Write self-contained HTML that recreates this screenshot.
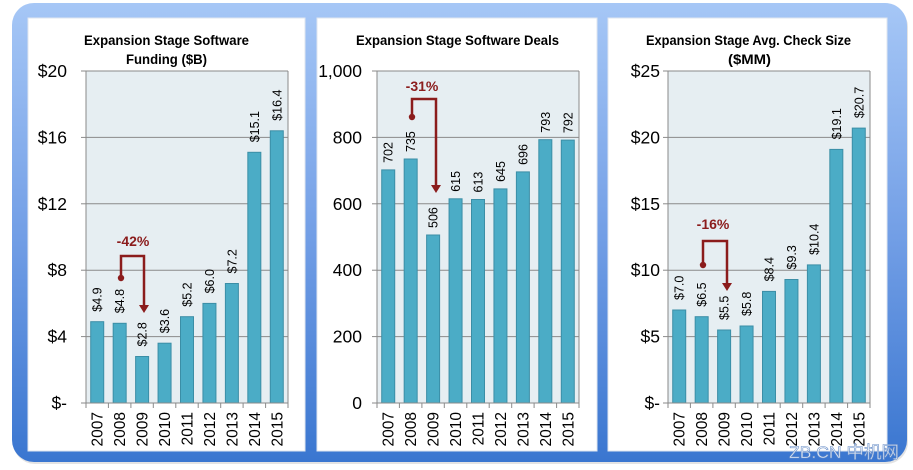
<!DOCTYPE html>
<html><head><meta charset="utf-8"><style>
html,body{margin:0;padding:0;background:#fff;}
svg{display:block;}
text{font-family:"Liberation Sans","Noto Sans CJK SC",sans-serif;}
</style></head><body>
<svg width="913" height="470" viewBox="0 0 913 470" xmlns="http://www.w3.org/2000/svg">
<defs>
<linearGradient id="bg" x1="0" y1="0" x2="0" y2="1">
<stop offset="0" stop-color="#a6c7f6"/>
<stop offset="0.5" stop-color="#739fe6"/>
<stop offset="1" stop-color="#3a76d0"/>
</linearGradient>
</defs>
<rect x="0" y="0" width="913" height="470" fill="#fff"/>
<rect x="13" y="5" width="895" height="459" rx="22" fill="#c8c8c8" opacity="0.5"/>
<rect x="12" y="3" width="895" height="459" rx="22" fill="url(#bg)"/>
<rect x="28" y="18" width="277" height="433" fill="#fff" stroke="#dfe6ef" stroke-width="1"/>
<rect x="317" y="18" width="280" height="433" fill="#fff" stroke="#dfe6ef" stroke-width="1"/>
<rect x="608" y="18" width="279" height="433" fill="#fff" stroke="#dfe6ef" stroke-width="1"/>

<!-- Panel 1 -->
<g>
<text x="166.5" y="45" font-size="14" font-weight="bold" text-anchor="middle" textLength="165" lengthAdjust="spacingAndGlyphs" fill="#000">Expansion Stage Software</text>
<text x="166.5" y="64" font-size="14" font-weight="bold" text-anchor="middle" textLength="81" lengthAdjust="spacingAndGlyphs" fill="#000">Funding ($B)</text>
<rect x="86" y="71" width="202" height="332" fill="#e6eef2"/>
<g stroke="#8a8a8a" stroke-width="1">
<line x1="86" y1="71" x2="288" y2="71"/><line x1="86" y1="137.4" x2="288" y2="137.4"/><line x1="86" y1="203.8" x2="288" y2="203.8"/><line x1="86" y1="270.2" x2="288" y2="270.2"/><line x1="86" y1="336.6" x2="288" y2="336.6"/>
<line x1="288" y1="71" x2="288" y2="403"/>
</g>
<g fill="#4bacc6" stroke="#3b8ea6" stroke-width="1">
<rect x="90.72" y="321.7" width="13" height="81.3"/>
<rect x="113.17" y="323.3" width="13" height="79.7"/>
<rect x="135.61" y="356.5" width="13" height="46.5"/>
<rect x="158.06" y="343.2" width="13" height="59.8"/>
<rect x="180.5" y="316.7" width="13" height="86.3"/>
<rect x="202.94" y="303.4" width="13" height="99.6"/>
<rect x="225.39" y="283.5" width="13" height="119.5"/>
<rect x="247.83" y="152.3" width="13" height="250.7"/>
<rect x="270.28" y="130.8" width="13" height="272.2"/>
</g>
<g stroke="#8a8a8a" stroke-width="1">
<line x1="86" y1="71" x2="86" y2="403"/><line x1="81" y1="403" x2="288" y2="403"/>
<line x1="81" y1="71" x2="86" y2="71"/><line x1="81" y1="137.4" x2="86" y2="137.4"/><line x1="81" y1="203.8" x2="86" y2="203.8"/><line x1="81" y1="270.2" x2="86" y2="270.2"/><line x1="81" y1="336.6" x2="86" y2="336.6"/>
<line x1="86" y1="403" x2="86" y2="408"/><line x1="108.4" y1="403" x2="108.4" y2="408"/><line x1="130.9" y1="403" x2="130.9" y2="408"/><line x1="153.3" y1="403" x2="153.3" y2="408"/><line x1="175.8" y1="403" x2="175.8" y2="408"/><line x1="198.2" y1="403" x2="198.2" y2="408"/><line x1="220.7" y1="403" x2="220.7" y2="408"/><line x1="243.1" y1="403" x2="243.1" y2="408"/><line x1="265.6" y1="403" x2="265.6" y2="408"/><line x1="288" y1="403" x2="288" y2="408"/>
</g>
<g font-size="17.5" text-anchor="end" fill="#000">
<text x="67" y="77">$20</text><text x="67" y="143.4">$16</text><text x="67" y="209.8">$12</text><text x="67" y="276.2">$8</text><text x="67" y="342.6">$4</text><text x="67" y="409">$-</text>
</g>
<g font-size="12.5" fill="#000">
<text transform="translate(101.7,311.7) rotate(-90)">$4.9</text>
<text transform="translate(124.2,313.3) rotate(-90)">$4.8</text>
<text transform="translate(146.6,346.5) rotate(-90)">$2.8</text>
<text transform="translate(169.1,333.2) rotate(-90)">$3.6</text>
<text transform="translate(191.5,306.7) rotate(-90)">$5.2</text>
<text transform="translate(213.9,293.4) rotate(-90)">$6.0</text>
<text transform="translate(236.4,273.5) rotate(-90)">$7.2</text>
<text transform="translate(258.8,142.3) rotate(-90)">$15.1</text>
<text transform="translate(281.3,120.8) rotate(-90)">$16.4</text>
</g>
<g font-size="15.5" fill="#000" text-anchor="end">
<text transform="translate(102.7,412) rotate(-90)">2007</text>
<text transform="translate(125.2,412) rotate(-90)">2008</text>
<text transform="translate(147.6,412) rotate(-90)">2009</text>
<text transform="translate(170.1,412) rotate(-90)">2010</text>
<text transform="translate(192.5,412) rotate(-90)">2011</text>
<text transform="translate(214.9,412) rotate(-90)">2012</text>
<text transform="translate(237.4,412) rotate(-90)">2013</text>
<text transform="translate(259.8,412) rotate(-90)">2014</text>
<text transform="translate(282.3,412) rotate(-90)">2015</text>
</g>
<text x="133" y="246" font-size="14" font-weight="bold" text-anchor="middle" fill="#8b1c1c">-42%</text>
<polyline points="121,278 121,256 144,256 144,306" fill="none" stroke="#8b1c1c" stroke-width="2.5"/>
<circle cx="121" cy="278" r="3.2" fill="#8b1c1c"/>
<polygon points="139,305 149,305 144,313" fill="#8b1c1c"/>
</g>

<!-- Panel 2 -->
<g>
<text x="457.5" y="45" font-size="14" font-weight="bold" text-anchor="middle" textLength="203" lengthAdjust="spacingAndGlyphs" fill="#000">Expansion Stage Software Deals</text>
<rect x="377" y="71" width="202" height="332" fill="#e6eef2"/>
<g stroke="#8a8a8a" stroke-width="1">
<line x1="377" y1="71" x2="579" y2="71"/><line x1="377" y1="137.4" x2="579" y2="137.4"/><line x1="377" y1="203.8" x2="579" y2="203.8"/><line x1="377" y1="270.2" x2="579" y2="270.2"/><line x1="377" y1="336.6" x2="579" y2="336.6"/>
<line x1="579" y1="71" x2="579" y2="403"/>
</g>
<g fill="#4bacc6" stroke="#3b8ea6" stroke-width="1">
<rect x="381.72" y="169.9" width="13" height="233.1"/>
<rect x="404.17" y="159" width="13" height="244"/>
<rect x="426.61" y="235" width="13" height="168"/>
<rect x="449.06" y="198.8" width="13" height="204.2"/>
<rect x="471.5" y="199.5" width="13" height="203.5"/>
<rect x="493.94" y="188.9" width="13" height="214.1"/>
<rect x="516.39" y="171.9" width="13" height="231.1"/>
<rect x="538.83" y="139.7" width="13" height="263.3"/>
<rect x="561.28" y="140.1" width="13" height="262.9"/>
</g>
<g stroke="#8a8a8a" stroke-width="1">
<line x1="377" y1="71" x2="377" y2="403"/><line x1="372" y1="403" x2="579" y2="403"/>
<line x1="372" y1="71" x2="377" y2="71"/><line x1="372" y1="137.4" x2="377" y2="137.4"/><line x1="372" y1="203.8" x2="377" y2="203.8"/><line x1="372" y1="270.2" x2="377" y2="270.2"/><line x1="372" y1="336.6" x2="377" y2="336.6"/>
<line x1="377" y1="403" x2="377" y2="408"/><line x1="399.4" y1="403" x2="399.4" y2="408"/><line x1="421.9" y1="403" x2="421.9" y2="408"/><line x1="444.3" y1="403" x2="444.3" y2="408"/><line x1="466.8" y1="403" x2="466.8" y2="408"/><line x1="489.2" y1="403" x2="489.2" y2="408"/><line x1="511.7" y1="403" x2="511.7" y2="408"/><line x1="534.1" y1="403" x2="534.1" y2="408"/><line x1="556.6" y1="403" x2="556.6" y2="408"/><line x1="579" y1="403" x2="579" y2="408"/>
</g>
<g font-size="17.5" text-anchor="end" fill="#000">
<text x="362" y="77">1,000</text><text x="362" y="143.4">800</text><text x="362" y="209.8">600</text><text x="362" y="276.2">400</text><text x="362" y="342.6">200</text><text x="362" y="409">0</text>
</g>
<g font-size="12.5" fill="#000">
<text transform="translate(392.7,162.9) rotate(-90)">702</text>
<text transform="translate(415.2,152) rotate(-90)">735</text>
<text transform="translate(437.6,228) rotate(-90)">506</text>
<text transform="translate(460.1,191.8) rotate(-90)">615</text>
<text transform="translate(482.5,192.5) rotate(-90)">613</text>
<text transform="translate(504.9,181.9) rotate(-90)">645</text>
<text transform="translate(527.4,164.9) rotate(-90)">696</text>
<text transform="translate(549.8,132.7) rotate(-90)">793</text>
<text transform="translate(572.3,133.1) rotate(-90)">792</text>
</g>
<g font-size="15.5" fill="#000" text-anchor="end">
<text transform="translate(393.7,412) rotate(-90)">2007</text>
<text transform="translate(416.2,412) rotate(-90)">2008</text>
<text transform="translate(438.6,412) rotate(-90)">2009</text>
<text transform="translate(461.1,412) rotate(-90)">2010</text>
<text transform="translate(483.5,412) rotate(-90)">2011</text>
<text transform="translate(505.9,412) rotate(-90)">2012</text>
<text transform="translate(528.4,412) rotate(-90)">2013</text>
<text transform="translate(550.8,412) rotate(-90)">2014</text>
<text transform="translate(573.3,412) rotate(-90)">2015</text>
</g>
<text x="422" y="91" font-size="14" font-weight="bold" text-anchor="middle" fill="#8b1c1c">-31%</text>
<polyline points="412,117 412,99 436,99 436,186" fill="none" stroke="#8b1c1c" stroke-width="2.5"/>
<circle cx="412" cy="117" r="3.2" fill="#8b1c1c"/>
<polygon points="431,185 441,185 436,193" fill="#8b1c1c"/>
</g>

<!-- Panel 3 -->
<g>
<text x="748.5" y="45" font-size="14" font-weight="bold" text-anchor="middle" textLength="205" lengthAdjust="spacingAndGlyphs" fill="#000">Expansion Stage Avg. Check Size</text>
<text x="749.5" y="64" font-size="14" font-weight="bold" text-anchor="middle" textLength="43" lengthAdjust="spacingAndGlyphs" fill="#000">($MM)</text>
<rect x="668" y="71" width="202" height="332" fill="#e6eef2"/>
<g stroke="#8a8a8a" stroke-width="1">
<line x1="668" y1="71" x2="870" y2="71"/><line x1="668" y1="137.4" x2="870" y2="137.4"/><line x1="668" y1="203.8" x2="870" y2="203.8"/><line x1="668" y1="270.2" x2="870" y2="270.2"/><line x1="668" y1="336.6" x2="870" y2="336.6"/>
<line x1="870" y1="71" x2="870" y2="403"/>
</g>
<g fill="#4bacc6" stroke="#3b8ea6" stroke-width="1">
<rect x="672.72" y="310" width="13" height="93"/>
<rect x="695.17" y="316.7" width="13" height="86.3"/>
<rect x="717.61" y="330" width="13" height="73"/>
<rect x="740.06" y="326" width="13" height="77"/>
<rect x="762.5" y="291.4" width="13" height="111.6"/>
<rect x="784.94" y="279.5" width="13" height="123.5"/>
<rect x="807.39" y="264.9" width="13" height="138.1"/>
<rect x="829.83" y="149.4" width="13" height="253.6"/>
<rect x="852.28" y="128.1" width="13" height="274.9"/>
</g>
<g stroke="#8a8a8a" stroke-width="1">
<line x1="668" y1="71" x2="668" y2="403"/><line x1="663" y1="403" x2="870" y2="403"/>
<line x1="663" y1="71" x2="668" y2="71"/><line x1="663" y1="137.4" x2="668" y2="137.4"/><line x1="663" y1="203.8" x2="668" y2="203.8"/><line x1="663" y1="270.2" x2="668" y2="270.2"/><line x1="663" y1="336.6" x2="668" y2="336.6"/>
<line x1="668" y1="403" x2="668" y2="408"/><line x1="690.4" y1="403" x2="690.4" y2="408"/><line x1="712.9" y1="403" x2="712.9" y2="408"/><line x1="735.3" y1="403" x2="735.3" y2="408"/><line x1="757.8" y1="403" x2="757.8" y2="408"/><line x1="780.2" y1="403" x2="780.2" y2="408"/><line x1="802.7" y1="403" x2="802.7" y2="408"/><line x1="825.1" y1="403" x2="825.1" y2="408"/><line x1="847.6" y1="403" x2="847.6" y2="408"/><line x1="870" y1="403" x2="870" y2="408"/>
</g>
<g font-size="17.5" text-anchor="end" fill="#000">
<text x="660" y="77">$25</text><text x="660" y="143.4">$20</text><text x="660" y="209.8">$15</text><text x="660" y="276.2">$10</text><text x="660" y="342.6">$5</text><text x="660" y="409">$-</text>
</g>
<g font-size="12.5" fill="#000">
<text transform="translate(683.7,300) rotate(-90)">$7.0</text>
<text transform="translate(706.2,306.7) rotate(-90)">$6.5</text>
<text transform="translate(728.6,320) rotate(-90)">$5.5</text>
<text transform="translate(751.1,316) rotate(-90)">$5.8</text>
<text transform="translate(773.5,281.4) rotate(-90)">$8.4</text>
<text transform="translate(795.9,269.5) rotate(-90)">$9.3</text>
<text transform="translate(818.4,254.9) rotate(-90)">$10.4</text>
<text transform="translate(840.8,139.4) rotate(-90)">$19.1</text>
<text transform="translate(863.3,118.1) rotate(-90)">$20.7</text>
</g>
<g font-size="15.5" fill="#000" text-anchor="end">
<text transform="translate(684.7,412) rotate(-90)">2007</text>
<text transform="translate(707.2,412) rotate(-90)">2008</text>
<text transform="translate(729.6,412) rotate(-90)">2009</text>
<text transform="translate(752.1,412) rotate(-90)">2010</text>
<text transform="translate(774.5,412) rotate(-90)">2011</text>
<text transform="translate(796.9,412) rotate(-90)">2012</text>
<text transform="translate(819.4,412) rotate(-90)">2013</text>
<text transform="translate(841.8,412) rotate(-90)">2014</text>
<text transform="translate(864.3,412) rotate(-90)">2015</text>
</g>
<text x="713" y="229" font-size="14" font-weight="bold" text-anchor="middle" fill="#8b1c1c">-16%</text>
<polyline points="703,265 703,241 727,241 727,284" fill="none" stroke="#8b1c1c" stroke-width="2.5"/>
<circle cx="703" cy="265" r="3.2" fill="#8b1c1c"/>
<polygon points="722,283 732,283 727,291" fill="#8b1c1c"/>
</g>

<text x="789" y="458" font-size="17" fill="#ffffff" fill-opacity="0.85" stroke="#6a8fc8" stroke-width="0.6" textLength="110" lengthAdjust="spacingAndGlyphs">ZB.CN 中机网</text>
</svg>
</body></html>
